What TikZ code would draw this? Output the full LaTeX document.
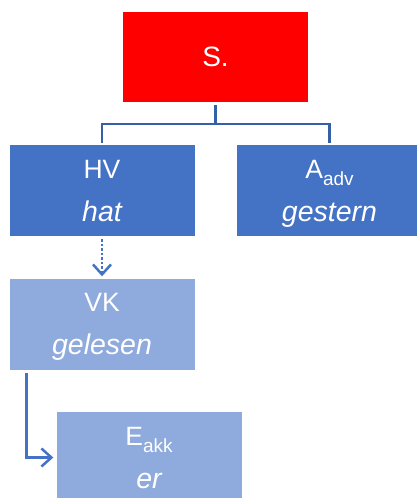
\documentclass[tikz,border=0pt]{standalone}
\usepackage{fontspec}
\setmainfont{Liberation Sans}
\usetikzlibrary{arrows.meta}
\definecolor{redbox}{HTML}{FF0000}
\definecolor{darkbox}{HTML}{4472C4}
\definecolor{lightbox}{HTML}{8FAADC}
\definecolor{treeline}{HTML}{3560A8}
\newcommand\lowsub[1]{\raisebox{-7pt}{\fontsize{19}{19}\selectfont #1}}
\newcommand\word[1]{\raisebox{0pt}[\height][0pt]{\fontsize{28.5}{43}\selectfont\itshape #1}}
\tikzset{
  >={Straight Barb[length=10pt,width=18pt]},
  bx/.style={rectangle,minimum width=185pt,minimum height=91pt,inner sep=0pt,text=white,align=center,font=\fontsize{26.5}{43}\selectfont},
  sb/.style={bx,fill=redbox,minimum height=90pt,font=\fontsize{28}{38}\selectfont},
  hb/.style={bx,fill=darkbox},
  lb/.style={bx,fill=lightbox},
  cn/.style={draw=treeline,line width=2.5pt},
  ar/.style={draw=darkbox,line width=2.5pt,->},
}
\begin{document}
\begin{tikzpicture}[x=1pt,y=-1pt]
\useasboundingbox (0,0) rectangle (416,498);
\node[sb] (s) at (215.5,57){S.};
\node[hb] (hv) at (102,190.5){HV\\\word{hat}}; \node[hb] (adv) at (329.5,190.5){A\lowsub{adv}\\\word{gestern}};
\node[lb] (vk) at (102,324){VK\\\word{gelesen}}; \node[lb] (akk) at (149,457.5){E\lowsub{akk}\\\word{er}};
\coordinate (j) at (215.5,124);
% tree lines below S.
\draw[cn,shorten <=3pt,shorten >=2pt] (s.south)--(j)-|(hv.north); \draw[cn,shorten >=2pt] (j)-|(adv.north);
% arrows down the verb chain
\draw[ar,dash pattern=on 2.5pt off 2pt,shorten <=3pt,shorten >=2pt] (hv.south)--(vk.north);
\draw[ar,shorten <=3pt,shorten >=3pt] ([xshift=17pt]vk.south west)|-(akk.west);
\end{tikzpicture}
\end{document}
